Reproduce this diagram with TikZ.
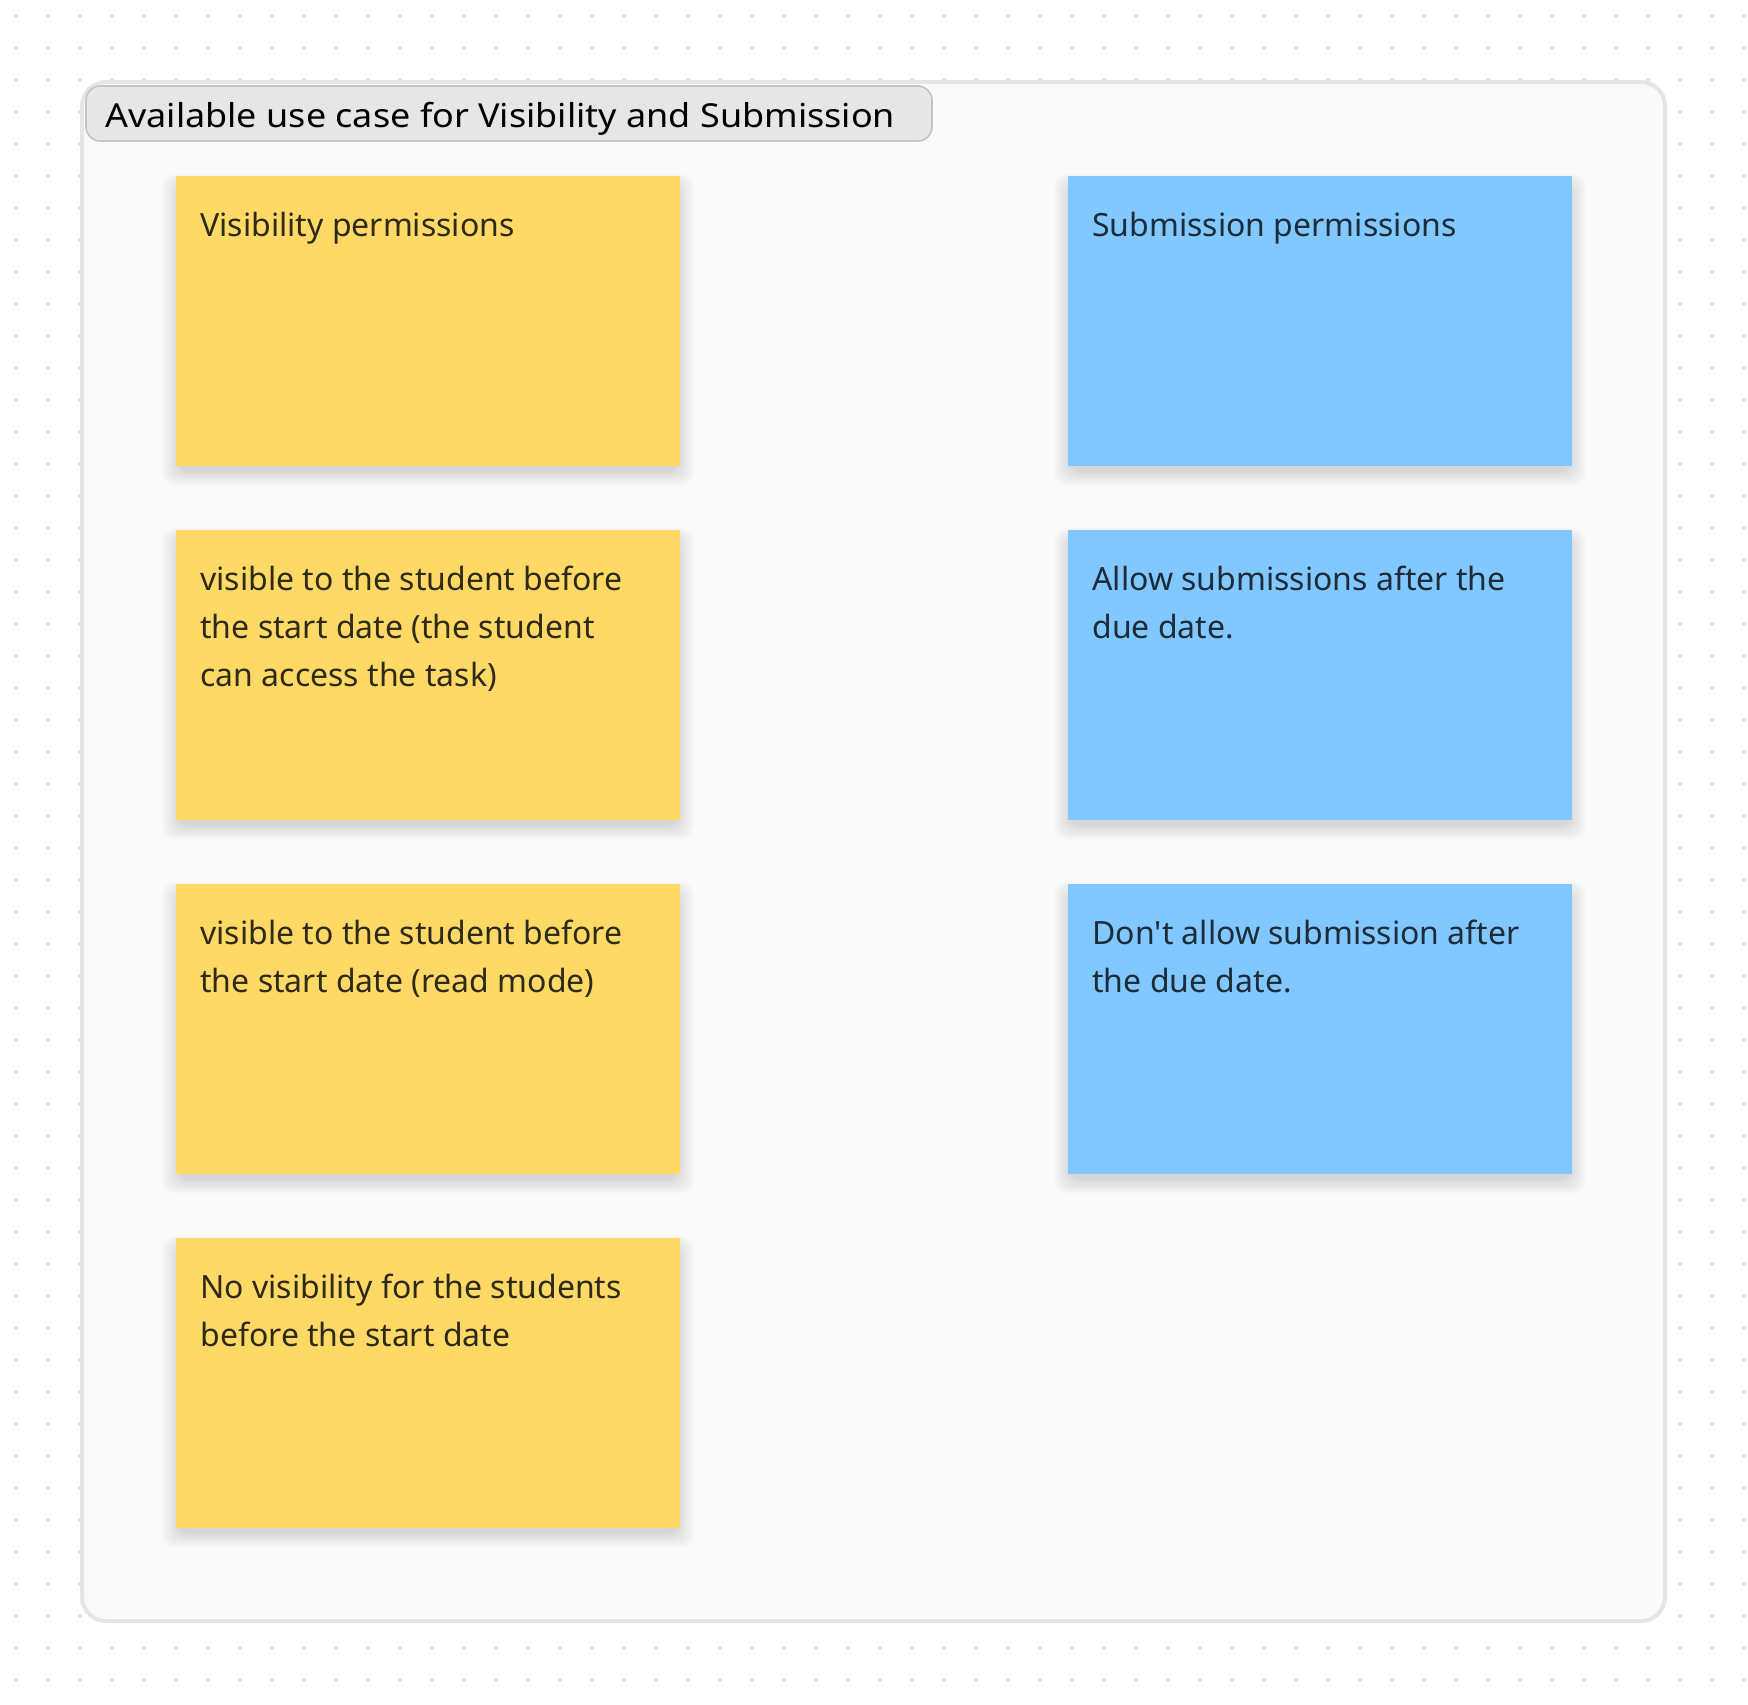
\documentclass[tikz,border=0pt]{standalone}
\usepackage{fontspec}
\setmainfont{Noto Sans}
\newfontfamily\titlefont[FakeStretch=1.09]{Noto Sans}
\definecolor{dotc}{HTML}{E2E2E2}
\definecolor{framefill}{HTML}{FAFAFA}
\definecolor{frameline}{HTML}{E5E5E5}
\definecolor{titlefill}{HTML}{E6E6E6}
\definecolor{titleline}{HTML}{C4C4C4}
\definecolor{yellowc}{HTML}{FFD966}
\definecolor{bluec}{HTML}{80C8FF}
\definecolor{ytext}{HTML}{2E2A18}
\definecolor{btext}{HTML}{1E2B38}
\tikzset{
  notebox/.style={draw=none, anchor=north west, inner sep=0pt, minimum width=252pt, minimum height=145pt},
  yellownote/.style={notebox, fill=yellowc},
  bluenote/.style={notebox, fill=bluec},
  notetext/.style={anchor=base west, inner sep=0pt},
  ynotetext/.style={notetext, text=ytext},
  bnotetext/.style={notetext, text=btext},
  shadowlayer/.style={fill=black, fill opacity=0.011, rounded corners=6pt},
}
\newcommand{\notelines}[1]{\parbox[t]{240pt}{\raggedright\fontsize{16pt}{24pt}\selectfont #1}}
\newcommand{\noteshadow}[2]{%
  \foreach \k in {1,...,12} {\fill[shadowlayer] (#1+4-\k*1.5,#2+10-\k) rectangle (#1+500+\k*1.5,#2+294+\k*1.3);}}
\begin{document}
\begin{tikzpicture}[x=0.5pt,y=-0.5pt]
\useasboundingbox (0,0) rectangle (1748,1704);
\fill[white] (0,0) rectangle (1748,1704);
\foreach \i in {0,...,54} {\foreach \j in {0,...,53} {\fill[dotc] (16+32*\i,16+32*\j) circle (1.1pt);}}
% frame
\draw[line width=2pt, draw=frameline, fill=framefill, rounded corners=12pt] (82,82) rectangle (1665,1621);
% title
\draw[line width=0.8pt, draw=titleline, fill=titlefill, rounded corners=7pt] (86,86) rectangle (932,141);
\node[anchor=base west, inner sep=0pt, font=\titlefont\fontsize{16.5pt}{20pt}\selectfont, text=black] (title) at (105,127) {Available use case for Visibility and Submission};
% shadows
\noteshadow{176}{176}
\noteshadow{176}{530}
\noteshadow{176}{884}
\noteshadow{176}{1238}
\noteshadow{1068}{176}
\noteshadow{1068}{530}
\noteshadow{1068}{884}
% yellow notes
\node[yellownote] (v1) at (176,176) {};
\node[yellownote] (v2) at (176,530) {};
\node[yellownote] (v3) at (176,884) {};
\node[yellownote] (v4) at (176,1238) {};
\node[ynotetext] (v1t) at (200,236) {\notelines{Visibility permissions}};
\node[ynotetext] (v2t) at (200,590) {\notelines{visible to the student before\\the start date (the student\\can access the task)}};
\node[ynotetext] (v3t) at (200,944) {\notelines{visible to the student before\\the start date (read mode)}};
\node[ynotetext] (v4t) at (200,1298) {\notelines{No visibility for the students\\before the start date}};
% blue notes
\node[bluenote] (s1) at (1068,176) {};
\node[bluenote] (s2) at (1068,530) {};
\node[bluenote] (s3) at (1068,884) {};
\node[bnotetext] (s1t) at (1092,236) {\notelines{Submission permissions}};
\node[bnotetext] (s2t) at (1092,590) {\notelines{Allow submissions after the\\due date.}};
\node[bnotetext] (s3t) at (1092,944) {\notelines{Don\textquotesingle t allow submission after\\the due date.}};
\end{tikzpicture}
\end{document}
